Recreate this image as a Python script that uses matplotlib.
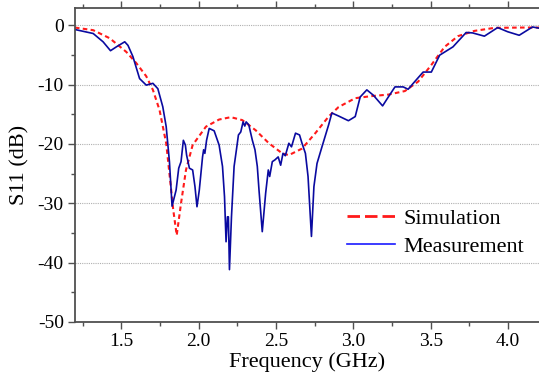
import matplotlib
matplotlib.use("Agg")
import matplotlib.pyplot as plt
from matplotlib.ticker import MultipleLocator

plt.rcParams['font.family'] = ['Liberation Serif', 'DejaVu Serif']

sim_f = [1.20, 1.318, 1.425, 1.532, 1.597, 1.661, 1.704, 1.747, 1.79, 1.811, 1.835, 1.858,
         1.886, 1.918, 1.961, 2.047, 2.132, 2.208, 2.282, 2.368, 2.454, 2.54, 2.583,
         2.668, 2.754, 2.84, 2.904, 3.012, 3.118, 3.226, 3.333, 3.419, 3.504, 3.59,
         3.676, 3.783, 3.912, 4.083, 4.20]
sim_db = [-0.4, -0.84, -2.2, -4.5, -6.4, -8.6, -10.9, -14.3, -19.9, -25.0, -31.0, -35.4,
          -30.0, -24.4, -20.2, -17.1, -15.9, -15.5, -16.0, -17.7, -19.9, -21.6, -21.9,
          -20.8, -18.2, -15.4, -13.8, -12.3, -11.95, -11.7, -11.1, -9.5, -6.7, -3.65,
          -1.85, -0.96, -0.45, -0.4, -0.4]

meas_f = [1.20, 1.318, 1.382, 1.43, 1.468, 1.522, 1.543, 1.575, 1.618, 1.661, 1.704, 1.736,
          1.768, 1.79, 1.811, 1.828, 1.854, 1.871, 1.886, 1.901, 1.914, 1.922, 1.94,
          1.961, 1.976, 1.989, 2.004, 2.025, 2.032, 2.04, 2.051, 2.068, 2.10, 2.132,
          2.154, 2.167, 2.177, 2.186, 2.192, 2.199, 2.212, 2.229, 2.244, 2.257, 2.272,
          2.287, 2.298, 2.307, 2.324, 2.347, 2.364, 2.379, 2.39, 2.411, 2.433, 2.45,
          2.459, 2.476, 2.493, 2.514, 2.53, 2.545, 2.56, 2.583, 2.60, 2.626, 2.652,
          2.668, 2.69, 2.707, 2.729, 2.745, 2.765, 2.797, 2.84, 2.861, 2.904, 2.968,
          3.012, 3.044, 3.087, 3.129, 3.189, 3.226, 3.269, 3.322, 3.354, 3.397, 3.451,
          3.504, 3.558, 3.644, 3.729, 3.77, 3.847, 3.933, 3.997, 4.072, 4.158, 4.20]
meas_db = [-0.73, -1.4, -2.8, -4.3, -3.65, -2.8, -3.4, -5.3, -9.0, -10.1, -9.8, -10.7,
           -13.75, -17.1, -23.0, -30.5, -27.8, -24.1, -23.0, -19.4, -20.2, -21.9, -24.1,
           -24.4, -27.2, -30.6, -27.8, -22.2, -21.0, -21.6, -19.4, -17.4, -17.8, -20.2,
           -23.8, -28.9, -36.5, -32.3, -32.3, -41.2, -32.3, -23.8, -21.0, -18.5, -18.0,
           -16.3, -17.0, -16.3, -16.8, -19.4, -21.0, -23.8, -27.8, -34.8, -28.3, -24.4,
           -25.5, -23.0, -22.7, -22.2, -23.6, -21.6, -22.0, -19.9, -20.5, -18.2, -18.5,
           -19.9, -21.6, -25.5, -35.6, -27.2, -23.3, -20.5, -16.8, -14.8, -15.3, -16.1,
           -15.4, -12.1, -10.9, -11.8, -13.6, -12.1, -10.4, -10.4, -10.8, -9.5, -7.9,
           -7.9, -5.05, -3.65, -1.23, -1.3, -1.85, -0.4, -1.1, -1.7, -0.3, -0.5]

fig = plt.figure(figsize=(5.39, 3.80), dpi=100)
ax = fig.add_axes([0.139, 0.153, 0.861, 0.826])

ax.plot(sim_f, sim_db, color='#ff1a1a', linestyle=(0, (2.2, 1.6)), linewidth=1.5,
        label='Simulation')
ax.plot(meas_f, meas_db, color='#0a0aa0', linewidth=1.2, label='Measurement')

ax.set_xlim(1.2, 4.2)
ax.set_ylim(-50, 2.9)
ax.xaxis.set_minor_locator(MultipleLocator(0.25))
ax.yaxis.set_minor_locator(MultipleLocator(5))
ax.set_xticks([1.5, 2.0, 2.5, 3.0, 3.5, 4.0])
ax.set_xticklabels(['1.5', '2.0', '2.5', '3.0', '3.5', '4.0'])
ax.set_yticks([0, -10, -20, -30, -40, -50])
ax.set_yticklabels(['0', '-10', '-20', '-30', '-40', '-50'])

ax.grid(axis='y', which='major', color='#b0b0b0', linestyle=(0, (1, 1)), linewidth=0.8)
ax.set_axisbelow(True)

for s in ['left', 'bottom', 'top']:
    ax.spines[s].set_color('#505050')
    ax.spines[s].set_linewidth(1.3)
ax.spines['right'].set_visible(False)

ax.tick_params(which='major', direction='out', length=5, width=1, colors='#505050',
               labelsize=14, labelcolor='black', top=True, pad=3)
ax.tick_params(which='minor', direction='out', length=3, width=1, colors='#505050', top=True)

ax.set_xlabel('Frequency (GHz)', fontsize=16, labelpad=2)
ax.set_ylabel('S11 (dB)', fontsize=16, labelpad=6)

leg = ax.legend(loc='upper left', bbox_to_anchor=(0.586, 0.361), frameon=False,
                borderpad=0, borderaxespad=0,
                fontsize=16, handlelength=2.16, handletextpad=0.4, labelspacing=0.33)
leg.get_lines()[0].set_linestyle((0, (4.5, 1.8)))
leg.get_lines()[0].set_linewidth(2)
leg.get_lines()[1].set_color('#1a1aff')

fig.savefig('out.png', dpi=100)
